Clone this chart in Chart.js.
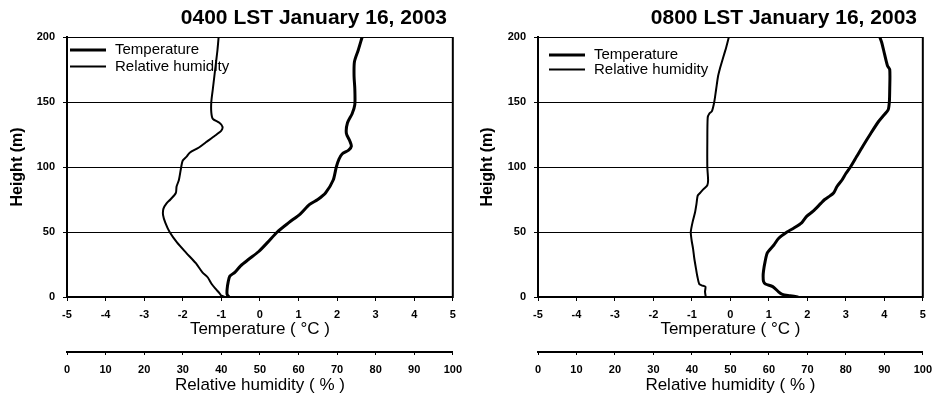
<!DOCTYPE html>
<html><head><meta charset="utf-8">
<script src="https://cdn.jsdelivr.net/npm/chart.js@4/dist/chart.umd.min.js"></script>
<style>
html,body{margin:0;padding:0;background:#fff;width:940px;height:397px;overflow:hidden}
.w{position:absolute;top:0;width:470px;height:397px}
</style></head>
<body>
<div class="w" style="left:0"><canvas id="c1" width="470" height="397"></canvas></div>
<div class="w" style="left:470px"><canvas id="c2" width="470" height="397"></canvas></div>
<script>
// ---------- data ----------
const chartTitles = ["0400 LST January 16, 2003", "0800 LST January 16, 2003"];
const seriesNames = ["Temperature", "Relative humidity"];
const tempTicks = [-5, -4, -3, -2, -1, 0, 1, 2, 3, 4, 5];
const rhTicks = [0, 10, 20, 30, 40, 50, 60, 70, 80, 90, 100];
const heightTicks = [0, 50, 100, 150, 200];

// 0400 LST: temperature (°C) vs height (m)
const tempHeights0400 = [0, 2, 6, 12, 16, 19, 24, 29, 35, 42, 50, 57, 64, 71, 75, 80, 90, 100, 106, 110, 113, 116, 120, 126, 134, 141, 148, 160, 170, 181, 190, 200];
const temp0400 =        [-0.8, -0.85, -0.85, -0.82, -0.78, -0.65, -0.5, -0.29, -0.03, 0.2, 0.45, 0.74, 1.05, 1.28, 1.5, 1.7, 1.9, 1.98, 2.05, 2.13, 2.3, 2.37, 2.33, 2.24, 2.27, 2.39, 2.46, 2.46, 2.44, 2.45, 2.55, 2.65];
// 0400 LST: relative humidity (%) vs height (m)
const rhHeights0400 = [0, 1, 3, 6, 10, 15, 19, 26, 34, 42, 50, 57, 63, 68, 72, 75, 80, 85, 90, 100, 105, 108, 111, 115, 119, 124, 128, 131, 134, 137, 142, 150, 160, 170, 180, 190, 200];
const rh0400 =        [41, 40, 39.5, 38.6, 37.5, 36.5, 35.1, 33.4, 30.9, 28.5, 26.6, 25.5, 24.9, 25, 25.8, 26.8, 28.2, 28.4, 29, 29.6, 30, 31, 31.8, 34.2, 36, 38.3, 40, 40.3, 39.5, 37.8, 37.4, 37.4, 37.8, 38.2, 38.6, 39, 39.3];

// 0800 LST: temperature (°C) vs height (m)
const tempHeights0800 = [0, 1, 2, 4, 8, 10, 12, 16, 20, 27, 34, 40, 45, 50, 53, 57, 62, 66, 72, 75, 77, 80, 85, 90, 95, 100, 108, 116, 126, 135, 140, 144, 150, 160, 175, 178, 190, 196, 200];
const temp0800 =        [1.75, 1.55, 1.35, 1.25, 1.1, 0.91, 0.86, 0.85, 0.86, 0.9, 0.96, 1.13, 1.25, 1.47, 1.65, 1.85, 1.98, 2.15, 2.35, 2.45, 2.55, 2.68, 2.77, 2.9, 3.0, 3.12, 3.28, 3.44, 3.65, 3.85, 3.99, 4.1, 4.13, 4.14, 4.14, 4.08, 3.98, 3.93, 3.88];
// 0800 LST: relative humidity (%) vs height (m)
const rhHeights0800 = [0, 4, 8, 9, 10, 16, 21, 30, 37, 44, 50, 58, 65, 72, 78, 80, 83, 86, 90, 100, 120, 138, 141, 143, 150, 160, 170, 176, 180, 188, 192, 200];
const rh0800 =        [43.6, 43.4, 43.5, 42.5, 41.9, 41.4, 41.1, 40.6, 40.3, 39.9, 39.7, 40.2, 40.8, 41.2, 41.5, 42.1, 43, 44, 44.2, 44, 44, 44.1, 44.5, 45.2, 45.8, 46.3, 46.8, 47.3, 47.7, 48.5, 48.9, 49.6];

// ---------- rendering ----------
const FONT = "'Liberation Sans', Arial, Helvetica, sans-serif";
Chart.defaults.font.family = FONT;
Chart.defaults.color = '#000';

function pts(xs, ys) { return ys.map((y, i) => ({ x: xs[i], y: y })); }

const decoPlugin = {
  id: 'deco',
  afterDraw(chart, args, o) {
    const ctx = chart.ctx, a = chart.chartArea;
    ctx.save();
    // right frame line
    ctx.strokeStyle = '#000'; ctx.lineWidth = 2;
    ctx.beginPath(); ctx.moveTo(a.right, a.top); ctx.lineTo(a.right, a.bottom + 1); ctx.stroke();
    // title
    ctx.fillStyle = '#000';
    ctx.font = 'bold 21px ' + FONT;
    ctx.textAlign = 'right'; ctx.textBaseline = 'middle';
    ctx.fillText(o.title, o.titleRight, o.titleY);
    // legend
    ctx.font = '15px ' + FONT;
    ctx.textAlign = 'left';
    chart.data.datasets.forEach((ds, i) => {
      const y = o.legY + i * o.legGap;
      ctx.lineWidth = ds.borderWidth;
      ctx.beginPath(); ctx.moveTo(a.left + o.legX0, y); ctx.lineTo(a.left + o.legX1, y); ctx.stroke();
      ctx.fillText(ds.label, a.left + o.legText, y);
    });
    ctx.restore();
  }
};

function makeChart(id, title, tH, tV, rH, rV, leftW, rightPad, leg) {
  return new Chart(document.getElementById(id), {
    type: 'scatter',
    data: {
      datasets: [
        { label: seriesNames[0], data: pts(tV, tH), xAxisID: 'x', yAxisID: 'y',
          showLine: true, borderColor: '#000', borderWidth: 3, pointRadius: 0, tension: 0.25,
          borderJoinStyle: 'round', borderCapStyle: 'round' },
        { label: seriesNames[1], data: pts(rV, rH), xAxisID: 'x2', yAxisID: 'y',
          showLine: true, borderColor: '#000', borderWidth: 2, pointRadius: 0, tension: 0.25,
          borderJoinStyle: 'round', borderCapStyle: 'round' }
      ]
    },
    options: {
      responsive: false, animation: false,
      layout: { padding: { top: 37, right: rightPad, bottom: 0, left: 0 } },
      plugins: {
        legend: { display: false }, tooltip: { enabled: false },
        deco: Object.assign({ title: title, titleRight: 447, titleY: 18 }, leg)
      },
      scales: {
        x: {
          type: 'linear', position: 'bottom', weight: 0, min: -5, max: 5,
          afterBuildTicks: s => { s.ticks = tempTicks.map(v => ({ value: v })); },
          afterFit: s => { s.height = 55; },
          grid: { display: true, drawOnChartArea: false, drawTicks: true, tickLength: 4, color: '#000', lineWidth: 1 },
          border: { display: true, color: '#000', width: 2 },
          ticks: { font: { size: 11, weight: 'bold' }, padding: 7, maxRotation: 0, color: '#000' },
          title: { display: true, text: 'Temperature ( °C )', font: { size: 17 }, padding: { top: 0, bottom: 12 }, color: '#000' }
        },
        x2: {
          type: 'linear', position: 'bottom', weight: 1, min: 0, max: 100,
          afterBuildTicks: s => { s.ticks = rhTicks.map(v => ({ value: v })); },
          afterFit: s => { s.height = 45; },
          grid: { display: true, drawOnChartArea: false, drawTicks: true, tickLength: 3, color: '#000', lineWidth: 1 },
          border: { display: true, color: '#000', width: 2 },
          ticks: { font: { size: 11, weight: 'bold' }, padding: 8, maxRotation: 0, color: '#000' },
          title: { display: true, text: 'Relative humidity ( % )', font: { size: 17 }, padding: { top: 0, bottom: 1 }, color: '#000' }
        },
        y: {
          type: 'linear', position: 'left', min: 0, max: 200,
          afterBuildTicks: s => { s.ticks = heightTicks.map(v => ({ value: v })); },
          afterFit: s => { s.width = leftW; },
          grid: { display: true, drawOnChartArea: true, drawTicks: true, tickLength: 4, color: '#000', lineWidth: 1 },
          border: { display: true, color: '#000', width: 2 },
          ticks: { font: { size: 11, weight: 'bold' }, padding: 8, color: '#000' },
          title: { display: true, text: 'Height (m)', font: { size: 16, weight: 'bold' }, padding: { top: 8, bottom: 0 }, color: '#000' }
        }
      }
    },
    plugins: [decoPlugin]
  });
}

makeChart('c1', chartTitles[0], tempHeights0400, temp0400, rhHeights0400, rh0400, 67, 14,
  { legX0: 3, legX1: 39, legText: 48, legY: 50, legGap: 16.5 });
makeChart('c2', chartTitles[1], tempHeights0800, temp0800, rhHeights0800, rh0800, 68, 12,
  { legX0: 11, legX1: 47, legText: 56, legY: 55, legGap: 14.5 });
</script>
</body></html>
